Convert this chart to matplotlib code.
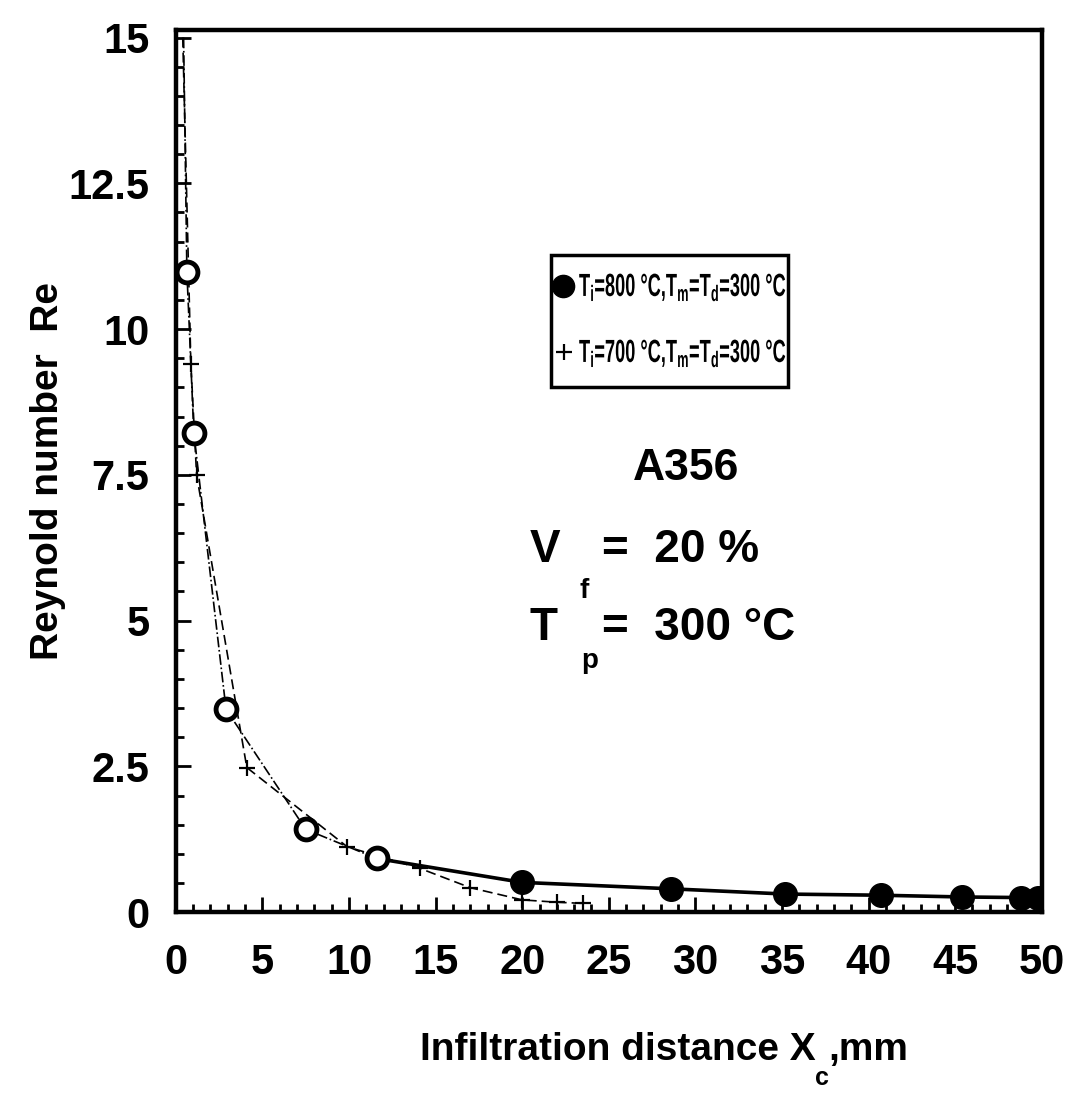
import matplotlib
matplotlib.use("Agg")
import matplotlib.pyplot as plt
from matplotlib.ticker import MultipleLocator
from matplotlib.textpath import TextPath
from matplotlib.patches import PathPatch, Rectangle
from matplotlib.font_manager import FontProperties
from matplotlib.transforms import Affine2D, IdentityTransform

plt.rcParams['font.family'] = ['Liberation Sans', 'DejaVu Sans']
plt.rcParams['mathtext.fontset'] = 'custom'
plt.rcParams['mathtext.rm'] = 'Liberation Sans:bold'
plt.rcParams['mathtext.it'] = 'Liberation Sans:bold'
plt.rcParams['mathtext.bf'] = 'Liberation Sans:bold'

# Ti = 800 C  (circles, first point is the line start at the top of the axis)
x800 = [0.45, 0.64, 1.04, 2.9, 7.5, 11.6, 20.0, 28.6, 35.2, 40.7, 45.4, 48.8, 49.8]
y800 = [15.0, 10.98, 8.22, 3.48, 1.42, 0.92, 0.51, 0.40, 0.31, 0.29, 0.26, 0.25, 0.25]
# Ti = 700 C  (cross markers)
x700 = [0.40, 0.87, 1.2, 4.1, 9.9, 14.1, 17.0, 20.0, 22.0, 23.5]
y700 = [15.0, 9.4, 7.5, 2.48, 1.12, 0.75, 0.42, 0.21, 0.17, 0.15]

lab800 = 'T$_i$=800 °C,T$_m$=T$_d$=300 °C'
lab700 = 'T$_i$=700 °C,T$_m$=T$_d$=300 °C'

W, H = 1092, 1111
fig = plt.figure(figsize=(W / 100, H / 100), dpi=100)
ax = fig.add_axes([0.161, 0.179, 0.793, 0.794])

# 700 C curve: thin dashed line with cross markers
ax.plot(x700, y700, color='black', lw=1.2, ls=(0, (6, 3)))
ax.plot(x700[1:], y700[1:], ls='none', marker='+', ms=12, mew=1.6, color='black')

# 800 C curve: thin near the start, thick solid afterwards
ax.plot(x800[:6], y800[:6], color='black', lw=1.2, ls='-.')
ax.plot(x800[5:], y800[5:], color='black', lw=2.6)
ax.plot(x800[1:6], y800[1:6], ls='none', marker='o', ms=15, mew=3.5,
        mfc='white', mec='black')
ax.plot(x800[6:], y800[6:], ls='none', marker='o', ms=17, color='black')

ax.set_xlim(0, 50)
ax.set_ylim(0, 15.13)
ax.xaxis.set_major_locator(MultipleLocator(5))
ax.xaxis.set_minor_locator(MultipleLocator(1))
ax.yaxis.set_minor_locator(MultipleLocator(0.5))
ax.set_yticks([0, 2.5, 5, 7.5, 10, 12.5, 15])
ax.set_yticklabels(['0', '2.5', '5', '7.5', '10', '12.5', '15'])
ax.tick_params(which='both', direction='in', top=False, right=False, width=2)
ax.tick_params(which='major', length=11, labelsize=30)
ax.tick_params(which='minor', length=6)
ax.tick_params(axis='y', which='major', pad=19)
ax.tick_params(axis='x', which='major', pad=22)
for t in ax.get_xticklabels() + ax.get_yticklabels():
    t.set_fontweight('bold')
for s in ax.spines.values():
    s.set_linewidth(3.2)


def px(x, y):
    # reference pixel -> axes fraction
    return (x - 176) / 866, (912 - y) / 882


# legend box, drawn by hand so the text can be condensed like the original
lx0, ly0 = px(551, 387)
lx1, ly1 = px(788, 255)
ax.add_patch(Rectangle((lx0, ly0), lx1 - lx0, ly1 - ly0, transform=ax.transAxes,
                       fill=False, lw=2.5, ec='black', clip_on=False, zorder=5))
ax.plot(*px(563, 286), transform=ax.transAxes, ls='none', marker='o', ms=16,
        color='black', clip_on=False, zorder=6)
ax.plot(*px(564, 352), transform=ax.transAxes, ls='none', marker='+', ms=11,
        mew=1.6, color='black', clip_on=False, zorder=6)
fp = FontProperties(family='Liberation Sans', weight='bold')
for lab, base in [(lab800, 296), (lab700, 362)]:
    tp = TextPath((0, 0), lab, size=32, prop=fp)
    sx = 206 / tp.get_extents().width
    tr = Affine2D().scale(sx, 1.0).translate(579, H - base)
    fig.patches.append(PathPatch(tp, transform=tr + IdentityTransform(),
                                 color='black', lw=0, figure=fig))

# annotations
ax.text(*px(686, 468), 'A356', transform=ax.transAxes, fontsize=32,
        fontweight='bold', ha='center', va='center')
ax.text(*px(530, 562), 'V', transform=ax.transAxes, fontsize=33,
        fontweight='bold', ha='left', va='baseline')
ax.text(*px(584, 598), 'f', transform=ax.transAxes, fontsize=20,
        fontweight='bold', ha='center', va='baseline')
ax.text(*px(602, 562), '=  20 %', transform=ax.transAxes, fontsize=33,
        fontweight='bold', ha='left', va='baseline')
ax.text(*px(530, 640), 'T', transform=ax.transAxes, fontsize=33,
        fontweight='bold', ha='left', va='baseline')
ax.text(*px(590, 668), 'p', transform=ax.transAxes, fontsize=20,
        fontweight='bold', ha='center', va='baseline')
ax.text(*px(602, 640), '=  300 °C', transform=ax.transAxes, fontsize=33,
        fontweight='bold', ha='left', va='baseline')

# axis labels
ax.set_ylabel('Reynold number  Re', fontsize=28, fontweight='bold', labelpad=2)
fig.text(816 / W, 1 - 1060 / H, 'Infiltration distance X', fontsize=28,
         fontweight='bold', ha='right', va='baseline')
fig.text(822 / W, 1 - 1085 / H, 'c', fontsize=18, fontweight='bold',
         ha='center', va='baseline')
fig.text(828 / W, 1 - 1060 / H, ',mm', fontsize=28, fontweight='bold',
         ha='left', va='baseline')

fig.savefig('out.png', dpi=100)
